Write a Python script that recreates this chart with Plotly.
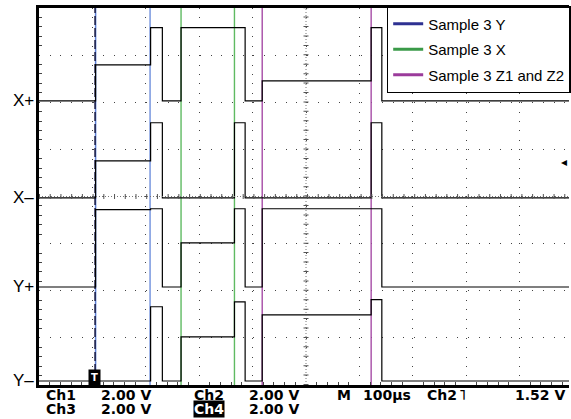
import plotly.graph_objects as go

# oscilloscope capture: time in microseconds (100 us/div), levels in volts (2.00 V/div)
edges_us = [0, 106, 209, 231, 266, 366, 386, 418, 622, 642, 992.5]

channel_names = ["X+", "X–", "Y+", "Y–"]
ground_div = [6.03, 3.97, 2.08, 0.085]          # channel ground markers (divisions)
xplus_v = [0, 1.53, 3.11, 0, 3.11, 3.11, 0, 0.85, 3.11, 0]
xminus_v = [0, 1.57, 3.19, 0, 0, 3.19, 0, 0, 3.19, 0]
yplus_v = [0, 3.28, 3.32, 0, 1.87, 3.32, 0, 3.32, 3.32, 0]
yminus_v = [0, 0, 3.15, 0, 1.87, 3.36, 0, 2.81, 3.45, 0]

sample_y_us = [106, 208]
sample_x_us = [266, 366]
sample_z_us = [418, 622]

volts_per_div = 2.0
trig_level_v = 1.52
trig_channel = 1  # Ch2 = X-

W, H = 571, 419
L, R, T, B = 39, 0, 8, 34
PW, PH = W - L - R, H - T - B


def px(x):
    return (x - L) / PW


def py(y):
    return (H - B - y) / PH


fig = go.Figure()

# marker lines for the sample windows
fig.add_trace(go.Scatter(x=[sample_y_us[0]] * 2, y=[0, 8], mode="lines", legendgroup="a",
                         line=dict(color="#5b7fd6", width=1.5), showlegend=False))
fig.add_trace(go.Scatter(x=[sample_y_us[0] - 1] * 2, y=[0, 8], mode="lines", legendgroup="a",
                         line=dict(color="#1a1a40", width=1.5, dash="9px,3px"), showlegend=False))
fig.add_trace(go.Scatter(x=[sample_y_us[1]] * 2, y=[0, 8], mode="lines", legendgroup="a",
                         line=dict(color="#6f8fdc", width=1.4), showlegend=False))
for t in sample_x_us:
    fig.add_trace(go.Scatter(x=[t, t], y=[0, 8], mode="lines", legendgroup="b",
                             line=dict(color="#5fba62", width=1.4), showlegend=False))
for t in sample_z_us:
    fig.add_trace(go.Scatter(x=[t, t], y=[0, 8], mode="lines", legendgroup="c",
                             line=dict(color="#a64ca6", width=1.4), showlegend=False))

# channel traces
for g, vals in zip(ground_div, [xplus_v, xminus_v, yplus_v, yminus_v]):
    ys = [g + v / volts_per_div for v in vals]
    fig.add_trace(go.Scatter(x=edges_us, y=ys + [ys[-1]], mode="lines", line_shape="hv",
                             legendgroup="a", line=dict(color="black", width=1.2), showlegend=False))

# legend entries
for name, col, grp in [("Sample 3 Y", "#2e3192", "a"), ("Sample 3 X", "#3a9a48", "b"),
                       ("Sample 3 Z1 and Z2", "#9b3b9b", "c")]:
    fig.add_trace(go.Scatter(x=[None], y=[None], mode="lines", name=name, legendgroup=grp,
                             line=dict(color=col, width=3)))

# graticule centre lines
fig.add_shape(type="line", x0=500, x1=500, y0=0, y1=8, line=dict(color="#777", width=1, dash="1px,2px"))
fig.add_shape(type="line", x0=500, x1=500, y0=0, y1=8, line=dict(color="#555", width=5, dash="1px,8.42px"))
fig.add_shape(type="line", x0=0, x1=992.5, y0=4, y1=4, line=dict(color="#777", width=1, dash="1px,2px"))
fig.add_shape(type="line", x0=0, x1=992.5, y0=4, y1=4, line=dict(color="#555", width=5, dash="1px,9.72px"))

ann = []
for name, g in zip(channel_names, ground_div):
    ann.append(dict(xref="paper", yref="y", x=px(36), y=g, text=name, showarrow=False,
                    xanchor="right", yanchor="middle", font=dict(family="Arial", size=17, color="black")))

# trigger level arrow and trigger position
ann.append(dict(xref="paper", yref="y", x=1, y=ground_div[trig_channel] + trig_level_v / volts_per_div,
                text="◂", showarrow=False, xanchor="right", yanchor="middle",
                font=dict(family="DejaVu Sans", size=12, color="black")))
ann.append(dict(xref="x", yref="paper", x=sample_y_us[0] - 2, y=py(377), text="T", showarrow=False,
                xanchor="center", yanchor="middle", bgcolor="black", borderpad=2,
                font=dict(family="DejaVu Sans", size=10, color="white", weight="bold")))

status = [("Ch1", 45, 395), ("2.00 V", 100, 395), ("Ch2", 194, 395), ("2.00 V", 249, 395),
          ("M", 337, 395), ("100µs", 363, 395), ("Ch2", 427, 395), ("˥", 460, 395),
          ("1.52 V", 516, 395), ("Ch3", 45, 409), ("2.00 V", 100, 409), ("2.00 V", 249, 409)]
for txt, x, y in status:
    ann.append(dict(xref="paper", yref="paper", x=px(x), y=py(y), text=txt, showarrow=False,
                    xanchor="left", yanchor="middle", borderpad=0,
                    font=dict(family="DejaVu Sans", size=14, color="black", weight="bold")))
ann.append(dict(xref="paper", yref="paper", x=px(194), y=py(409), text="Ch4", showarrow=False,
                xanchor="left", yanchor="middle", bgcolor="black", borderpad=0,
                font=dict(family="DejaVu Sans", size=14, color="white", weight="bold")))

fig.update_layout(
    width=W, height=H,
    margin=dict(l=L, r=R, t=T, b=B, pad=0),
    paper_bgcolor="white", plot_bgcolor="white",
    annotations=ann,
    legend=dict(x=px(388), y=py(6), xanchor="left", yanchor="top",
                bgcolor="white", bordercolor="black", borderwidth=1.5,
                font=dict(family="Arial", size=15, color="black"),
                traceorder="grouped", tracegroupgap=3),
    xaxis=dict(range=[0, 992.5], showticklabels=False, zeroline=False,
               showgrid=True, dtick=100, gridcolor="#444", gridwidth=1, griddash="1px,8.42px",
               showline=True, linecolor="black", linewidth=3, mirror=True,
               ticks="inside", tick0=0, ticklen=0,
               minor=dict(ticks="inside", dtick=20, ticklen=3, tickcolor="#444", showgrid=False)),
    yaxis=dict(range=[0, 8], showticklabels=False, zeroline=False,
               showgrid=True, dtick=1, gridcolor="#444", gridwidth=1, griddash="1px,9.72px",
               showline=True, linecolor="black", linewidth=3,
               ticks="inside", tick0=0, ticklen=0,
               minor=dict(ticks="inside", dtick=0.2, ticklen=3, tickcolor="#444", showgrid=False)),
)

fig.write_html("out.html", config={"displayModeBar": False},
               post_script="document.body.style.margin='0';")
